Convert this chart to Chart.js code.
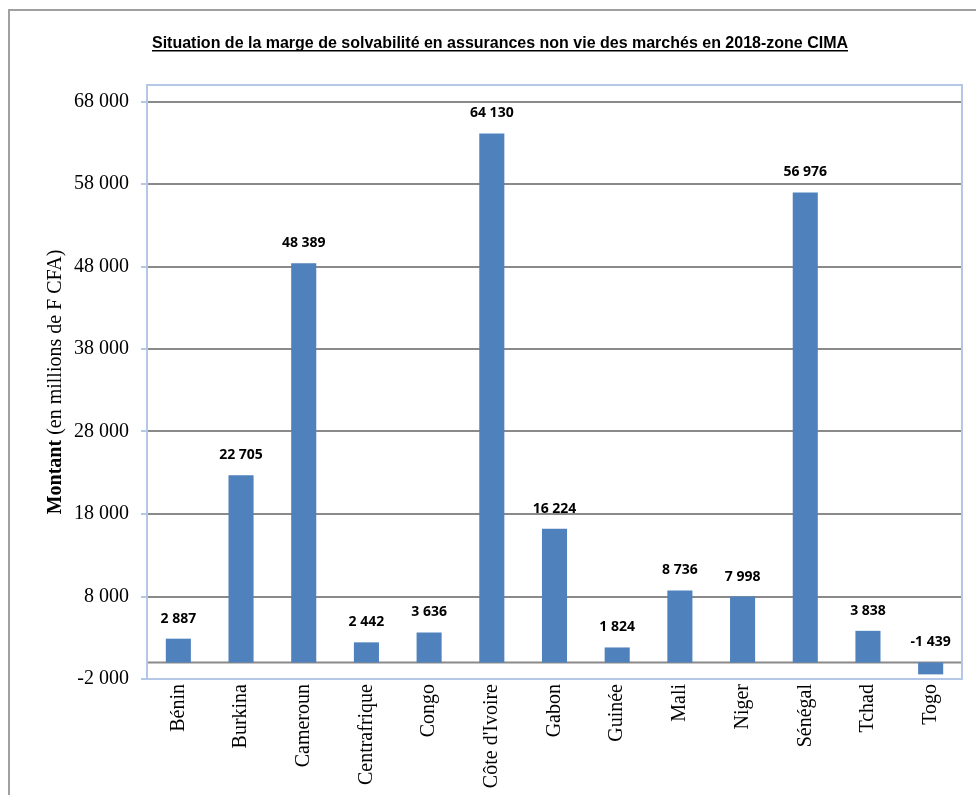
<!DOCTYPE html>
<html>
<head>
<meta charset="utf-8">
<script src="https://cdn.jsdelivr.net/npm/chart.js@4.4.1/dist/chart.umd.min.js"></script>
<style>
  html, body { margin: 0; padding: 0; background: #fff; }
  #wrap { width: 976px; height: 795px; position: relative; }
</style>
</head>
<body>
<div id="wrap"><canvas id="chartMarge"></canvas></div>
<script>
const pays = ["Bénin", "Burkina", "Cameroun", "Centrafrique", "Congo", "Côte d'Ivoire", "Gabon", "Guinée", "Mali", "Niger", "Sénégal", "Tchad", "Togo"];
const marge = [2887, 22705, 48389, 2442, 3636, 64130, 16224, 1824, 8736, 7998, 56976, 3838, -1439];
const yTicks = [-2000, 8000, 18000, 28000, 38000, 48000, 58000, 68000];

const titre = "Situation de la marge de solvabilité en assurances non vie des marchés en 2018-zone CIMA";
const titreAxe = ["Montant", " (en millions de F CFA)"];

const bleuClair = "#b4c7e7";
const grisGrille = "#8a8a8a";

function fmt(v) {
  const s = Math.abs(v).toString().replace(/\B(?=(\d{3})+(?!\d))/g, " ");
  return (v < 0 ? "-" : "") + s;
}

// cadre exterieur + titre souligne + titre de l'axe
const decorPlugin = {
  id: "decor",
  beforeDraw(chart) {
    const ctx = chart.ctx;
    ctx.save();
    ctx.strokeStyle = "#a0a0a0";
    ctx.lineWidth = 2;
    ctx.beginPath();
    ctx.moveTo(9, 800);
    ctx.lineTo(9, 10);
    ctx.lineTo(980, 10);
    ctx.stroke();

    // titre
    ctx.font = "bold 16px 'Liberation Sans Narrow', 'Liberation Sans', Arial, sans-serif";
    ctx.fillStyle = "#000";
    ctx.textBaseline = "alphabetic";
    ctx.textAlign = "left";
    const w = ctx.measureText(titre).width;
    const cible = 696;
    const sx = cible / w;
    ctx.save();
    ctx.translate(152, 48);
    ctx.scale(sx, 1);
    ctx.fillText(titre, 0, 0);
    ctx.restore();
    ctx.fillRect(152, 50, cible, 1.5);

    // titre axe y
    const a = chart.chartArea;
    ctx.translate(61, (a.top + a.bottom) / 2);
    ctx.rotate(-Math.PI / 2);
    ctx.font = "bold 20px 'Liberation Serif', 'Times New Roman', serif";
    const w1 = ctx.measureText(titreAxe[0]).width;
    ctx.font = "20px 'Liberation Serif', 'Times New Roman', serif";
    const w2 = ctx.measureText(titreAxe[1]).width;
    let x = -(w1 + w2) / 2;
    ctx.font = "bold 20px 'Liberation Serif', 'Times New Roman', serif";
    ctx.fillText(titreAxe[0], x, 0);
    ctx.font = "20px 'Liberation Serif', 'Times New Roman', serif";
    ctx.fillText(titreAxe[1], x + w1, 0);
    ctx.restore();
  },
  beforeDatasetsDraw(chart) {
    const ctx = chart.ctx;
    const a = chart.chartArea;
    const y0 = chart.scales.y.getPixelForValue(0);
    ctx.save();
    ctx.strokeStyle = grisGrille;
    ctx.lineWidth = 2;
    ctx.beginPath();
    ctx.moveTo(a.left, y0);
    ctx.lineTo(a.right, y0);
    ctx.stroke();
    ctx.strokeStyle = bleuClair;
    ctx.lineWidth = 2;
    ctx.strokeRect(a.left, a.top, a.right - a.left, a.bottom - a.top);
    ctx.restore();
  },
  afterDatasetsDraw(chart) {
    const ctx = chart.ctx;
    const meta = chart.getDatasetMeta(0);
    ctx.save();
    ctx.font = "bold 14px 'Open Sans', sans-serif";
    ctx.fillStyle = "#000";
    ctx.textAlign = "center";
    ctx.textBaseline = "middle";
    meta.data.forEach((bar, i) => {
      const top = Math.min(bar.y, bar.base);
      ctx.fillText(fmt(marge[i]), bar.x, top - 20);
    });
    ctx.restore();
  }
};

const data = {
  labels: pays,
  datasets: [
    {
      data: marge,
      backgroundColor: "#4f81bd",
      borderWidth: 0,
      barPercentage: 0.4,
      categoryPercentage: 1
    }
  ]
};

const config = {
  type: "bar",
  data: data,
  options: {
    responsive: false,
    animation: false,
    layout: {
      padding: { top: 85, right: 14, left: 0, bottom: 0 }
    },
    plugins: {
      legend: { display: false },
      tooltip: { enabled: false },
      title: { display: false }
    },
    scales: {
      x: {
        grid: { display: false },
        border: { display: true, color: bleuClair, width: 2 },
        ticks: {
          minRotation: 90,
          maxRotation: 90,
          padding: -3,
          color: "#000",
          font: { family: "'Liberation Serif', 'Times New Roman', serif", size: 20 }
        },
        afterFit(scale) { scale.height = 116; }
      },
      y: {
        min: -2000,
        max: 70000,
        afterBuildTicks(scale) {
          scale.ticks = yTicks.map(v => ({ value: v }));
        },
        grid: {
          color: c => (c.tick && c.tick.value === -2000 ? bleuClair : grisGrille),
          lineWidth: 2,
          tickColor: bleuClair,
          tickLength: 6,
          drawTicks: true
        },
        border: { display: true, color: bleuClair, width: 2 },
        ticks: {
          padding: 12,
          color: "#000",
          font: { family: "'Liberation Serif', 'Times New Roman', serif", size: 20 },
          callback: v => fmt(v)
        },
        afterFit(scale) { scale.width = 147; }
      }
    }
  },
  plugins: [decorPlugin]
};

const canvas = document.getElementById("chartMarge");
canvas.width = 976;
canvas.height = 795;
new Chart(canvas, config);
</script>
</body>
</html>
